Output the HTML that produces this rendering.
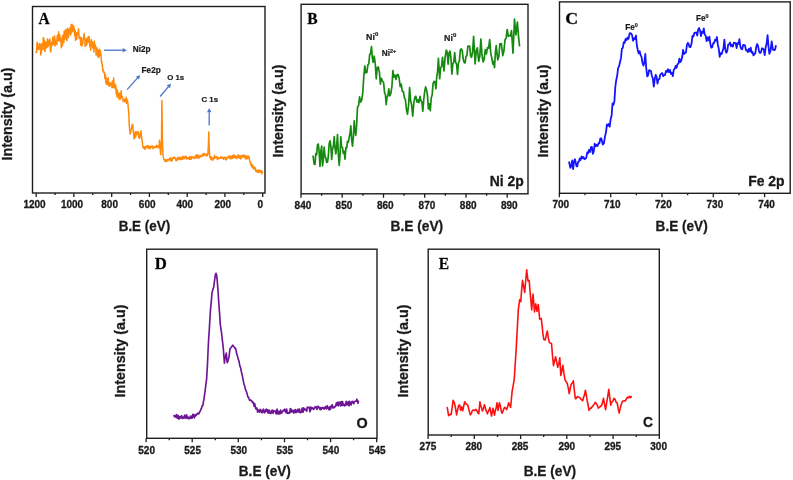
<!DOCTYPE html>
<html><head><meta charset="utf-8"><title>XPS spectra</title>
<style>html,body{margin:0;padding:0;background:#fff;width:793px;height:480px;overflow:hidden}svg{display:block;will-change:transform}svg text{stroke:#1a1a1a;stroke-width:0.3px}svg text.sm{stroke-width:0.2px}</style>
</head><body><svg width="793" height="480" viewBox="0 0 793 480"><rect x="32.5" y="6.5" width="232.5" height="186.5" fill="none" stroke="#1e1e1e" stroke-width="1.4"/>
<path d="M262.7 193.0V197.0M224.9 193.0V197.0M187.2 193.0V197.0M149.4 193.0V197.0M111.7 193.0V197.0M73.9 193.0V197.0M36.2 193.0V197.0M243.8 193.0V195.0M206.1 193.0V195.0M168.3 193.0V195.0M130.6 193.0V195.0M92.8 193.0V195.0M55.1 193.0V195.0" stroke="#1e1e1e" stroke-width="1.3" fill="none"/>
<text transform="translate(34.50 208.18) scale(1 1.100)" font-size="10.00" font-weight="bold" text-anchor="middle" fill="#1a1a1a" font-family="Liberation Sans, sans-serif">1200</text>
<text transform="translate(72.00 208.18) scale(1 1.100)" font-size="10.00" font-weight="bold" text-anchor="middle" fill="#1a1a1a" font-family="Liberation Sans, sans-serif">1000</text>
<text transform="translate(109.65 208.18) scale(1 1.100)" font-size="10.00" font-weight="bold" text-anchor="middle" fill="#1a1a1a" font-family="Liberation Sans, sans-serif">800</text>
<text transform="translate(147.20 208.18) scale(1 1.100)" font-size="10.00" font-weight="bold" text-anchor="middle" fill="#1a1a1a" font-family="Liberation Sans, sans-serif">600</text>
<text transform="translate(184.85 208.18) scale(1 1.100)" font-size="10.00" font-weight="bold" text-anchor="middle" fill="#1a1a1a" font-family="Liberation Sans, sans-serif">400</text>
<text transform="translate(222.80 208.18) scale(1 1.100)" font-size="10.00" font-weight="bold" text-anchor="middle" fill="#1a1a1a" font-family="Liberation Sans, sans-serif">200</text>
<text transform="translate(260.30 208.18) scale(1 1.100)" font-size="10.00" font-weight="bold" text-anchor="middle" fill="#1a1a1a" font-family="Liberation Sans, sans-serif">0</text>
<text x="118.7" y="230.6" font-size="14.60" font-weight="bold" fill="#1a1a1a" font-family="Liberation Sans, sans-serif" textLength="51.5" lengthAdjust="spacingAndGlyphs">B.E (eV)</text>
<text transform="translate(12.4 160.5) rotate(-90)" x="0" y="0" font-size="14.20" font-weight="bold" fill="#1a1a1a" font-family="Liberation Sans, sans-serif" textLength="93" lengthAdjust="spacingAndGlyphs">Intensity (a.u)</text>
<text transform="translate(38.40 23.60) scale(1.000 1.040)" font-size="15.50" font-weight="bold" fill="#000" font-family="Liberation Serif, serif">A</text>
<path d="M36.0 51.1 L36.3 52.5 L36.6 51.8 L36.9 44.7 L37.2 42.3 L37.6 45.8 L37.9 43.8 L38.2 49.4 L38.5 47.2 L38.8 46.9 L39.1 47.1 L39.4 49.0 L39.8 43.6 L40.1 47.9 L40.4 45.3 L40.7 54.9 L41.0 45.5 L41.3 53.6 L41.6 43.7 L41.9 50.1 L42.2 44.9 L42.6 44.8 L42.9 49.0 L43.2 38.2 L43.5 37.7 L43.8 48.6 L44.1 44.3 L44.4 39.9 L44.7 51.3 L45.0 51.4 L45.3 42.0 L45.6 46.4 L45.9 43.5 L46.2 44.9 L46.5 47.9 L46.8 41.7 L47.1 47.3 L47.5 38.8 L47.8 39.5 L48.1 46.5 L48.4 40.8 L48.7 41.6 L49.0 44.2 L49.3 43.3 L49.6 42.7 L49.9 39.0 L50.2 47.9 L50.5 51.3 L50.8 51.9 L51.1 47.4 L51.4 42.9 L51.8 42.2 L52.1 45.4 L52.4 44.4 L52.8 36.9 L53.1 37.5 L53.4 38.3 L53.7 40.5 L54.0 44.6 L54.4 41.3 L54.7 36.1 L55.0 46.1 L55.4 41.8 L55.7 43.4 L56.0 40.3 L56.3 41.9 L56.6 40.7 L56.9 44.5 L57.2 35.7 L57.6 40.3 L57.9 35.1 L58.2 40.5 L58.5 31.8 L58.8 35.4 L59.1 36.9 L59.4 41.1 L59.8 34.7 L60.1 40.3 L60.4 38.0 L60.7 39.5 L61.0 42.5 L61.3 47.7 L61.6 41.4 L62.0 46.5 L62.3 36.4 L62.6 44.9 L62.9 37.6 L63.2 34.9 L63.5 41.0 L63.9 42.4 L64.2 30.9 L64.5 33.5 L64.8 39.3 L65.1 33.9 L65.4 32.5 L65.7 29.5 L66.0 29.6 L66.3 36.4 L66.7 40.5 L67.0 40.5 L67.3 34.3 L67.6 28.3 L67.9 31.7 L68.2 37.1 L68.5 37.4 L68.8 34.5 L69.1 29.1 L69.4 32.1 L69.7 31.0 L70.0 32.2 L70.3 27.3 L70.6 35.0 L70.9 33.8 L71.2 24.5 L71.5 25.5 L71.8 32.0 L72.1 24.3 L72.4 31.7 L72.7 26.1 L73.0 29.3 L73.3 30.5 L73.6 25.7 L73.9 27.7 L74.2 28.4 L74.6 34.6 L74.9 35.9 L75.2 30.2 L75.5 40.4 L75.8 35.9 L76.1 32.6 L76.4 33.8 L76.7 39.3 L77.0 33.1 L77.3 32.8 L77.6 35.2 L77.9 34.6 L78.2 31.1 L78.5 28.8 L78.8 32.7 L79.1 38.2 L79.4 38.7 L79.8 38.0 L80.1 37.1 L80.4 39.1 L80.7 45.3 L81.0 45.1 L81.3 37.5 L81.6 44.8 L81.9 46.1 L82.2 43.9 L82.6 44.0 L82.9 43.2 L83.2 37.7 L83.5 39.7 L83.8 35.8 L84.1 33.4 L84.4 37.4 L84.8 37.9 L85.1 46.4 L85.4 44.5 L85.7 43.7 L86.0 45.6 L86.3 39.0 L86.6 43.2 L86.9 44.4 L87.3 40.0 L87.6 37.5 L87.9 38.8 L88.2 37.0 L88.5 42.2 L88.8 36.5 L89.1 36.7 L89.5 40.1 L89.8 45.6 L90.1 47.1 L90.4 46.7 L90.7 50.2 L91.0 43.6 L91.4 39.7 L91.7 45.4 L92.0 45.1 L92.3 42.1 L92.7 48.1 L93.0 44.4 L93.3 43.3 L93.6 44.6 L94.0 52.1 L94.3 41.1 L94.6 45.5 L94.9 45.1 L95.2 44.8 L95.5 48.2 L95.8 46.3 L96.1 55.3 L96.5 50.9 L96.8 53.8 L97.1 48.0 L97.4 52.3 L97.7 54.6 L98.0 57.3 L98.3 50.0 L98.6 52.4 L98.9 57.0 L99.2 56.6 L99.6 49.2 L99.9 52.8 L100.2 55.3 L100.5 50.8 L100.8 54.0 L101.1 56.6 L101.5 62.7 L101.8 61.8 L102.1 65.4 L102.4 64.5 L102.7 70.5 L103.0 68.9 L103.3 71.8 L103.6 71.7 L103.9 72.4 L104.3 72.0 L104.6 74.1 L104.9 78.5 L105.2 76.9 L105.5 75.1 L105.8 82.6 L106.1 77.8 L106.4 84.3 L106.8 81.2 L107.1 79.3 L107.4 84.2 L107.7 84.6 L108.0 79.2 L108.3 77.8 L108.6 83.3 L108.9 85.8 L109.2 84.0 L109.5 86.2 L109.8 83.1 L110.1 85.6 L110.4 82.7 L110.7 84.6 L111.0 84.8 L111.3 84.4 L111.6 84.2 L111.9 87.7 L112.2 81.1 L112.5 81.0 L112.8 81.1 L113.1 87.7 L113.4 82.9 L113.7 77.9 L114.0 85.1 L114.3 86.7 L114.6 87.3 L114.9 84.0 L115.2 88.8 L115.5 85.8 L115.8 85.3 L116.2 93.6 L116.5 94.5 L116.8 89.6 L117.1 97.2 L117.4 90.1 L117.7 94.0 L118.0 92.3 L118.3 95.0 L118.6 94.5 L119.0 99.5 L119.3 95.1 L119.6 93.6 L119.9 93.2 L120.3 94.0 L120.6 99.0 L120.9 96.1 L121.2 90.8 L121.6 97.2 L121.9 96.4 L122.2 96.2 L122.6 97.6 L122.9 99.5 L123.2 101.6 L123.5 99.4 L123.9 101.3 L124.2 100.3 L124.5 101.7 L124.9 99.1 L125.2 99.2 L125.5 100.0 L125.8 101.7 L126.2 97.3 L126.5 103.4 L126.8 98.9 L127.1 102.3 L127.5 100.5 L127.8 102.8 L128.2 106.9 L128.7 112.8 L129.0 118.6 L129.3 125.7 L129.7 130.0 L130.1 133.9 L130.5 133.0 L130.8 131.0 L131.2 129.7 L131.6 128.0 L131.9 126.3 L132.2 124.4 L132.6 124.3 L132.9 126.0 L133.3 132.0 L133.7 134.1 L134.0 138.7 L134.3 138.4 L134.6 136.8 L134.9 137.7 L135.2 131.8 L135.5 132.7 L135.8 136.6 L136.1 133.6 L136.4 131.7 L136.7 134.7 L137.0 132.4 L137.3 133.4 L137.6 132.3 L137.9 132.2 L138.2 131.6 L138.5 135.0 L138.8 137.4 L139.1 138.0 L139.4 137.0 L139.7 138.3 L140.0 135.2 L140.3 132.8 L140.7 134.6 L141.0 130.8 L141.4 136.6 L141.8 138.0 L142.2 141.2 L142.6 144.7 L143.0 147.5 L143.3 147.9 L143.7 147.9 L144.0 146.7 L144.3 147.0 L144.6 148.8 L145.0 149.4 L145.3 147.9 L145.6 146.7 L145.9 147.9 L146.3 147.4 L146.6 146.6 L146.9 145.9 L147.2 146.2 L147.6 146.7 L147.9 145.4 L148.2 147.0 L148.6 148.6 L148.9 148.1 L149.2 146.8 L149.5 147.6 L149.9 146.7 L150.2 148.6 L150.5 148.0 L150.8 146.3 L151.2 147.3 L151.5 147.2 L151.8 146.9 L152.1 146.0 L152.5 146.0 L152.8 146.4 L153.1 148.8 L153.4 146.8 L153.8 147.7 L154.1 147.8 L154.4 147.1 L154.8 147.5 L155.1 146.6 L155.4 146.6 L155.7 146.5 L156.1 146.1 L156.4 147.7 L156.7 145.3 L157.0 145.6 L157.4 146.8 L157.7 146.2 L158.0 146.7 L158.3 147.4 L158.7 145.6 L159.0 147.8 L159.5 140.2 L159.8 143.9 L160.2 148.9 L160.5 152.6 L160.8 154.7 L161.2 146.9 L161.5 139.9 L161.9 100.4 L162.4 140.1 L163.0 155.9 L163.3 156.9 L163.7 158.6 L164.0 159.6 L164.3 159.6 L164.6 159.5 L164.9 161.3 L165.2 159.8 L165.6 161.6 L165.9 160.0 L166.2 160.4 L166.5 160.3 L166.8 161.2 L167.1 161.1 L167.4 159.2 L167.8 160.0 L168.1 160.4 L168.4 159.4 L168.7 159.8 L169.0 159.4 L169.3 159.8 L169.6 158.7 L169.9 158.6 L170.2 157.7 L170.6 160.6 L170.9 160.4 L171.2 159.1 L171.5 161.1 L171.8 160.8 L172.1 158.1 L172.4 160.3 L172.8 158.7 L173.1 158.3 L173.4 157.9 L173.7 158.3 L174.0 157.0 L174.3 157.2 L174.7 157.6 L175.0 158.4 L175.3 158.2 L175.7 158.3 L176.0 160.8 L176.3 159.5 L176.7 159.6 L177.0 159.6 L177.3 160.3 L177.7 157.4 L178.0 157.3 L178.3 159.1 L178.7 158.9 L179.0 159.1 L179.3 157.9 L179.7 157.5 L180.0 157.1 L180.3 159.7 L180.7 159.3 L181.0 158.8 L181.3 159.4 L181.7 157.5 L182.0 158.3 L182.3 159.3 L182.7 156.5 L183.0 158.1 L183.3 156.5 L183.7 158.7 L184.0 158.8 L184.3 158.2 L184.7 157.6 L185.0 156.3 L185.3 158.0 L185.7 157.6 L186.0 157.6 L186.3 156.4 L186.7 159.1 L187.0 157.7 L187.3 157.7 L187.7 158.5 L188.0 158.5 L188.3 157.5 L188.6 157.7 L189.0 158.8 L189.3 157.4 L189.6 159.3 L189.9 156.6 L190.3 159.3 L190.6 158.2 L190.9 158.3 L191.2 159.2 L191.6 156.5 L191.9 156.8 L192.2 157.9 L192.5 157.5 L192.9 156.9 L193.2 157.9 L193.5 157.7 L193.8 158.5 L194.2 157.9 L194.5 157.1 L194.8 157.0 L195.1 156.1 L195.4 156.0 L195.8 155.5 L196.1 158.3 L196.4 155.3 L196.7 156.6 L197.1 154.8 L197.4 157.7 L197.7 156.4 L198.0 155.3 L198.4 157.6 L198.7 157.9 L199.0 158.4 L199.3 156.0 L199.7 156.4 L200.0 157.0 L200.3 155.5 L200.6 156.3 L201.0 156.5 L201.3 156.4 L201.6 156.4 L201.9 156.1 L202.2 154.6 L202.5 156.1 L202.8 155.0 L203.1 154.0 L203.5 153.5 L203.8 155.4 L204.1 154.5 L204.4 153.6 L204.7 154.9 L205.0 154.6 L205.3 154.2 L205.6 154.9 L206.0 154.8 L206.3 154.6 L206.6 156.1 L206.9 155.7 L207.3 153.6 L207.6 155.4 L207.9 153.5 L208.4 145.2 L208.8 132.0 L209.1 145.0 L209.4 151.4 L209.8 157.5 L210.1 157.7 L210.4 157.6 L210.7 156.7 L211.0 159.6 L211.3 156.9 L211.6 157.4 L211.9 158.4 L212.2 159.9 L212.5 159.2 L212.9 160.0 L213.2 159.0 L213.5 157.6 L213.8 158.9 L214.1 156.7 L214.4 155.5 L214.7 158.3 L215.0 158.2 L215.3 157.7 L215.6 157.3 L215.9 156.6 L216.2 156.9 L216.5 156.6 L216.8 156.9 L217.1 158.4 L217.4 159.6 L217.7 159.5 L218.0 157.9 L218.3 158.3 L218.6 157.4 L218.9 158.2 L219.3 157.8 L219.6 158.6 L219.9 158.3 L220.2 158.0 L220.5 157.9 L220.8 156.7 L221.1 157.9 L221.4 158.1 L221.7 157.3 L222.0 157.7 L222.3 158.2 L222.7 157.2 L223.0 158.5 L223.3 157.4 L223.7 159.3 L224.0 158.2 L224.3 157.4 L224.7 157.4 L225.0 157.4 L225.3 157.0 L225.7 159.8 L226.0 159.8 L226.3 159.2 L226.7 159.4 L227.0 157.4 L227.3 158.4 L227.7 156.9 L228.0 157.1 L228.3 157.6 L228.7 156.0 L229.0 155.9 L229.3 157.6 L229.7 157.0 L230.0 158.5 L230.3 156.2 L230.7 156.1 L231.0 159.0 L231.3 158.1 L231.7 158.1 L232.0 157.4 L232.3 155.8 L232.7 158.3 L233.0 156.5 L233.3 157.6 L233.7 154.8 L234.0 155.5 L234.3 156.6 L234.7 155.8 L235.0 158.0 L235.3 156.2 L235.7 155.9 L236.0 156.3 L236.3 156.5 L236.7 158.6 L237.0 158.2 L237.3 157.4 L237.7 156.4 L238.0 155.0 L238.3 157.4 L238.7 155.3 L239.0 155.7 L239.3 156.6 L239.7 158.2 L240.0 156.2 L240.3 156.0 L240.7 158.9 L241.0 155.7 L241.3 157.9 L241.7 155.7 L242.0 155.9 L242.3 155.4 L242.7 155.9 L243.0 157.2 L243.3 157.1 L243.6 156.3 L244.0 155.0 L244.3 155.5 L244.6 156.1 L244.9 157.9 L245.3 158.5 L245.6 155.7 L245.9 156.9 L246.2 159.0 L246.5 156.3 L246.9 156.0 L247.2 156.6 L247.5 158.6 L247.8 156.5 L248.2 158.0 L248.5 156.0 L248.8 157.7 L249.1 157.1 L249.5 159.4 L249.8 160.9 L250.2 162.3 L250.5 161.8 L250.8 164.5 L251.2 163.6 L251.5 166.3 L251.8 166.6 L252.1 167.3 L252.4 164.8 L252.7 165.8 L253.1 167.6 L253.4 168.7 L253.7 167.0 L254.0 169.1 L254.3 168.6 L254.6 167.3 L254.9 167.8 L255.2 167.8 L255.5 168.7 L255.8 171.3 L256.1 170.7 L256.5 171.5 L256.8 171.9 L257.1 170.4 L257.4 171.7 L257.7 171.8 L258.0 172.1 L258.3 170.1 L258.7 172.6 L259.0 170.1 L259.3 171.0 L259.6 171.7 L260.0 171.8 L260.3 172.0 L260.6 170.6 L261.0 170.9 L261.3 172.6 L261.6 170.7 L261.9 173.7 L262.3 172.2 L262.6 172.7" stroke="#ff8a0c" stroke-width="1.50" fill="none" stroke-linejoin="round"/>
<path d="M104.0 50.2L122.6 50.2" stroke="#4a74c8" stroke-width="1.3"/>
<path d="M126.8 50.2L122.6 52.4L122.6 48.0Z" fill="#4a74c8"/>
<path d="M127.1 89.6L137.4 78.1" stroke="#4a74c8" stroke-width="1.3"/>
<path d="M140.2 75.0L139.0 79.6L135.8 76.7Z" fill="#4a74c8"/>
<path d="M160.1 96.5L168.3 86.8" stroke="#4a74c8" stroke-width="1.3"/>
<path d="M171.0 83.6L170.0 88.2L166.6 85.4Z" fill="#4a74c8"/>
<path d="M209.2 125.5L209.2 112.2" stroke="#4a74c8" stroke-width="1.3"/>
<path d="M209.2 108.0L211.4 112.2L207.0 112.2Z" fill="#4a74c8"/>
<text x="132.8" y="51.8" font-size="8.20" font-weight="bold" text-anchor="start" fill="#1a1a1a" font-family="Liberation Sans, sans-serif"  class="sm">Ni2p</text>
<text x="141.6" y="72.5" font-size="8.20" font-weight="bold" text-anchor="start" fill="#1a1a1a" font-family="Liberation Sans, sans-serif"  class="sm">Fe2p</text>
<text x="167.2" y="80.0" font-size="7.80" font-weight="bold" text-anchor="start" fill="#1a1a1a" font-family="Liberation Sans, sans-serif"  class="sm">O 1s</text>
<text x="201.5" y="102.3" font-size="7.80" font-weight="bold" text-anchor="start" fill="#1a1a1a" font-family="Liberation Sans, sans-serif"  class="sm">C 1s</text>
<rect x="301.1" y="4.3" width="226.9" height="189.5" fill="none" stroke="#1e1e1e" stroke-width="1.4"/>
<path d="M301.0 193.8V197.8M342.2 193.8V197.8M383.5 193.8V197.8M424.7 193.8V197.8M466.0 193.8V197.8M507.2 193.8V197.8M321.6 193.8V195.8M362.9 193.8V195.8M404.1 193.8V195.8M445.3 193.8V195.8M486.6 193.8V195.8" stroke="#1e1e1e" stroke-width="1.3" fill="none"/>
<text transform="translate(302.95 209.48) scale(1 1.100)" font-size="10.00" font-weight="bold" text-anchor="middle" fill="#1a1a1a" font-family="Liberation Sans, sans-serif">840</text>
<text transform="translate(343.95 209.48) scale(1 1.100)" font-size="10.00" font-weight="bold" text-anchor="middle" fill="#1a1a1a" font-family="Liberation Sans, sans-serif">850</text>
<text transform="translate(385.25 209.48) scale(1 1.100)" font-size="10.00" font-weight="bold" text-anchor="middle" fill="#1a1a1a" font-family="Liberation Sans, sans-serif">860</text>
<text transform="translate(426.95 209.48) scale(1 1.100)" font-size="10.00" font-weight="bold" text-anchor="middle" fill="#1a1a1a" font-family="Liberation Sans, sans-serif">870</text>
<text transform="translate(468.20 209.48) scale(1 1.100)" font-size="10.00" font-weight="bold" text-anchor="middle" fill="#1a1a1a" font-family="Liberation Sans, sans-serif">880</text>
<text transform="translate(509.35 209.48) scale(1 1.100)" font-size="10.00" font-weight="bold" text-anchor="middle" fill="#1a1a1a" font-family="Liberation Sans, sans-serif">890</text>
<text x="390.5" y="230.6" font-size="14.60" font-weight="bold" fill="#1a1a1a" font-family="Liberation Sans, sans-serif" textLength="52.7" lengthAdjust="spacingAndGlyphs">B.E (eV)</text>
<text transform="translate(282.6 157.5) rotate(-90)" x="0" y="0" font-size="14.20" font-weight="bold" fill="#1a1a1a" font-family="Liberation Sans, sans-serif" textLength="93" lengthAdjust="spacingAndGlyphs">Intensity (a.u)</text>
<text transform="translate(307.30 23.60) scale(1.000 1.040)" font-size="15.50" font-weight="bold" fill="#000" font-family="Liberation Serif, serif">B</text>
<text x="489.8" y="185.6" font-size="13.90" font-weight="bold" text-anchor="start" fill="#1a1a1a" font-family="Liberation Sans, sans-serif" >Ni 2p</text>
<path d="M313.0 155.5 L314.2 164.2 L315.0 164.4 L315.8 153.6 L316.6 154.8 L317.5 144.8 L318.3 144.0 L319.1 151.5 L320.0 166.4 L320.9 151.0 L321.7 146.2 L322.5 165.8 L323.4 159.3 L324.2 147.0 L325.0 156.2 L325.8 157.9 L326.6 162.3 L327.5 162.1 L328.3 156.3 L329.2 143.6 L330.0 140.9 L330.9 146.5 L331.7 159.4 L332.5 149.3 L333.4 146.1 L334.2 136.5 L335.0 147.7 L335.8 153.8 L336.6 147.4 L337.5 134.6 L338.4 155.2 L339.2 165.4 L340.0 155.5 L340.8 136.9 L341.6 147.0 L342.5 147.6 L343.3 153.4 L344.2 151.4 L345.0 159.1 L345.9 147.7 L346.7 147.9 L347.5 141.4 L348.4 142.1 L349.2 137.2 L350.0 133.5 L350.8 125.9 L351.6 138.9 L352.5 146.1 L353.4 136.4 L354.2 120.9 L355.0 131.5 L355.8 135.3 L356.6 125.7 L357.5 107.3 L358.6 105.4 L359.6 96.9 L360.6 102.2 L361.7 100.0 L362.7 93.5 L363.8 76.2 L364.8 65.9 L365.8 73.0 L366.9 72.3 L367.9 64.8 L368.8 63.9 L369.6 55.0 L370.6 53.0 L371.5 46.7 L372.3 57.6 L373.1 62.3 L374.2 56.1 L375.2 62.8 L376.2 78.8 L377.3 67.5 L378.3 66.9 L379.4 72.2 L380.4 84.1 L381.4 78.4 L382.5 80.9 L383.6 82.6 L384.6 93.1 L385.4 94.4 L386.2 104.7 L387.1 96.4 L387.9 95.8 L388.8 88.9 L389.8 95.8 L390.8 93.7 L391.9 86.7 L392.9 70.7 L393.9 77.2 L395.0 75.1 L396.0 79.4 L397.1 74.7 L398.1 74.6 L399.1 78.0 L400.2 86.6 L401.2 84.1 L402.3 91.5 L403.4 91.7 L404.4 97.8 L405.4 99.5 L406.5 110.1 L407.5 114.2 L408.6 105.1 L409.6 87.6 L410.6 100.5 L411.7 105.3 L412.7 116.2 L413.8 103.1 L414.8 97.4 L415.8 96.2 L416.9 102.2 L417.9 99.8 L418.9 102.6 L420.0 96.4 L421.0 101.0 L421.9 101.9 L422.8 111.3 L423.8 98.8 L424.7 91.7 L425.6 86.9 L426.6 90.2 L427.5 95.4 L428.4 108.9 L429.4 103.8 L430.3 110.7 L431.2 98.2 L432.2 94.4 L433.1 83.4 L434.1 81.3 L435.0 81.8 L435.9 88.6 L436.7 77.5 L437.6 71.6 L438.4 58.4 L439.7 78.8 L440.6 67.8 L441.6 66.4 L442.5 57.3 L444.0 70.9 L445.1 57.4 L446.3 50.1 L447.2 52.1 L448.1 64.1 L449.1 52.8 L450.0 51.1 L450.9 57.8 L451.9 74.2 L452.8 63.7 L453.8 62.2 L454.7 52.6 L455.6 62.0 L456.6 64.4 L457.5 74.5 L458.4 63.2 L459.4 60.6 L460.4 49.9 L461.3 48.9 L462.2 50.4 L463.2 59.1 L464.1 62.4 L465.1 62.9 L466.0 56.4 L466.9 55.6 L467.9 46.1 L468.8 46.1 L469.7 46.4 L470.6 55.9 L471.5 57.3 L472.6 51.9 L473.6 36.4 L475.1 64.0 L476.2 51.0 L477.3 47.9 L478.7 61.5 L479.8 56.1 L480.9 39.0 L482.0 55.0 L483.1 61.9 L484.2 59.2 L485.3 49.5 L486.4 53.9 L487.5 47.5 L488.6 48.2 L489.7 39.6 L490.8 53.4 L491.9 58.5 L492.8 64.2 L493.6 61.3 L494.5 67.7 L495.4 52.7 L496.2 45.7 L497.7 59.9 L498.8 56.7 L499.9 43.9 L501.3 43.5 L502.8 55.6 L503.9 51.1 L505.0 39.8 L506.1 38.2 L507.2 29.5 L508.3 36.3 L509.4 35.5 L510.4 35.9 L511.5 30.7 L513.0 53.1 L514.5 19.2 L515.9 34.8 L517.4 22.0 L518.5 36.3 L519.6 46.5" stroke="#168a10" stroke-width="1.70" fill="none" stroke-linejoin="round"/>
<text x="366.0" y="39.8" font-size="8.90" font-weight="bold" text-anchor="start" fill="#1a1a1a" font-family="Liberation Sans, sans-serif"  class="sm">Ni<tspan font-size="6" dy="-3.4">0</tspan></text>
<text x="381.8" y="56.2" font-size="8.20" font-weight="bold" text-anchor="start" fill="#1a1a1a" font-family="Liberation Sans, sans-serif"  class="sm">Ni<tspan font-size="5.6" dy="-3.3">2+</tspan></text>
<text x="444.0" y="40.5" font-size="8.90" font-weight="bold" text-anchor="start" fill="#1a1a1a" font-family="Liberation Sans, sans-serif"  class="sm">Ni<tspan font-size="6" dy="-3.4">0</tspan></text>
<rect x="559.5" y="1.9" width="230.7" height="191.4" fill="none" stroke="#1e1e1e" stroke-width="1.4"/>
<path d="M559.4 193.3V197.3M610.7 193.3V197.3M662.0 193.3V197.3M713.3 193.3V197.3M764.6 193.3V197.3M585.0 193.3V195.3M636.4 193.3V195.3M687.6 193.3V195.3M738.9 193.3V195.3" stroke="#1e1e1e" stroke-width="1.3" fill="none"/>
<text transform="translate(560.85 208.38) scale(1 1.100)" font-size="10.00" font-weight="bold" text-anchor="middle" fill="#1a1a1a" font-family="Liberation Sans, sans-serif">700</text>
<text transform="translate(612.35 208.38) scale(1 1.100)" font-size="10.00" font-weight="bold" text-anchor="middle" fill="#1a1a1a" font-family="Liberation Sans, sans-serif">710</text>
<text transform="translate(663.40 208.38) scale(1 1.100)" font-size="10.00" font-weight="bold" text-anchor="middle" fill="#1a1a1a" font-family="Liberation Sans, sans-serif">720</text>
<text transform="translate(714.90 208.38) scale(1 1.100)" font-size="10.00" font-weight="bold" text-anchor="middle" fill="#1a1a1a" font-family="Liberation Sans, sans-serif">730</text>
<text transform="translate(766.60 208.38) scale(1 1.100)" font-size="10.00" font-weight="bold" text-anchor="middle" fill="#1a1a1a" font-family="Liberation Sans, sans-serif">740</text>
<text x="655.6" y="230.6" font-size="14.60" font-weight="bold" fill="#1a1a1a" font-family="Liberation Sans, sans-serif" textLength="52.1" lengthAdjust="spacingAndGlyphs">B.E (eV)</text>
<text transform="translate(548.0 157.5) rotate(-90)" x="0" y="0" font-size="14.20" font-weight="bold" fill="#1a1a1a" font-family="Liberation Sans, sans-serif" textLength="93" lengthAdjust="spacingAndGlyphs">Intensity (a.u)</text>
<text transform="translate(565.30 24.10) scale(1.150 1.120)" font-size="15.50" font-weight="bold" fill="#000" font-family="Liberation Serif, serif">C</text>
<text x="748.3" y="185.9" font-size="13.90" font-weight="bold" text-anchor="start" fill="#1a1a1a" font-family="Liberation Sans, sans-serif" >Fe 2p</text>
<path d="M569.0 161.5 L570.3 167.8 L571.2 166.1 L572.2 160.4 L573.1 169.2 L574.0 161.9 L575.0 159.3 L576.5 166.4 L577.3 166.3 L578.1 161.8 L578.9 161.7 L579.7 158.4 L580.6 160.0 L581.6 156.4 L582.5 158.2 L583.4 156.9 L584.4 159.2 L585.3 158.8 L586.2 158.1 L587.2 152.5 L588.1 153.2 L589.0 149.8 L590.0 152.0 L591.0 147.1 L591.9 146.9 L592.8 153.8 L593.8 151.5 L594.7 143.7 L595.6 146.4 L596.6 144.8 L597.5 146.1 L598.5 143.2 L599.4 143.3 L600.3 138.5 L601.3 138.5 L602.8 144.5 L603.9 143.4 L605.0 136.4 L606.0 132.3 L606.9 124.4 L607.8 125.7 L608.8 123.9 L609.7 126.6 L610.7 119.0 L611.6 115.8 L612.5 103.5 L613.5 104.9 L614.4 101.3 L615.3 87.0 L616.2 80.3 L617.2 75.6 L618.1 68.1 L619.0 66.5 L620.0 62.3 L621.0 57.9 L621.9 48.7 L622.8 47.9 L623.8 42.1 L624.7 42.7 L625.6 38.9 L626.6 40.1 L627.5 37.5 L628.5 38.9 L629.7 33.2 L630.9 33.3 L632.0 34.8 L633.1 40.8 L634.1 38.1 L635.0 39.0 L636.0 35.5 L636.9 46.0 L637.8 50.0 L638.7 53.4 L639.7 51.2 L640.6 55.2 L641.6 57.1 L642.5 63.0 L643.5 65.6 L644.4 62.4 L645.3 54.0 L646.2 67.7 L647.2 76.4 L648.1 75.4 L649.1 70.1 L650.0 70.7 L651.0 71.1 L651.9 76.0 L652.8 78.2 L653.8 86.7 L654.8 78.9 L655.7 74.9 L656.6 76.9 L657.5 83.6 L658.5 79.4 L659.4 79.0 L660.3 74.6 L661.3 73.7 L662.2 73.0 L663.2 76.2 L664.1 75.2 L665.0 75.1 L666.0 70.9 L666.9 72.0 L667.9 69.2 L669.0 72.1 L670.0 69.9 L670.9 73.8 L671.9 72.8 L672.8 76.2 L673.8 69.7 L674.7 68.9 L675.6 65.9 L676.6 67.7 L677.5 64.0 L678.5 63.7 L679.4 58.7 L680.3 62.1 L681.3 60.5 L682.2 57.1 L683.1 49.9 L684.0 54.0 L685.0 52.8 L685.9 52.6 L686.9 45.2 L687.8 42.9 L688.6 43.9 L689.5 47.0 L690.3 47.2 L691.4 44.4 L692.5 35.9 L693.4 36.6 L694.4 32.8 L695.3 32.6 L696.2 32.5 L697.2 35.5 L698.2 29.5 L699.1 28.1 L700.0 30.3 L701.0 36.1 L701.9 31.6 L702.9 32.9 L703.8 28.4 L704.7 34.7 L705.7 35.6 L706.6 41.2 L707.5 37.4 L708.5 40.2 L709.4 36.6 L710.3 43.6 L711.3 47.7 L712.2 47.2 L713.2 43.1 L714.1 43.0 L715.0 39.8 L716.0 40.7 L716.9 37.0 L717.8 44.2 L718.8 49.1 L719.7 56.8 L720.6 53.1 L721.6 54.2 L722.5 51.2 L723.5 47.9 L724.4 39.7 L725.3 49.4 L726.3 52.8 L727.2 51.1 L728.2 44.6 L729.1 44.3 L730.0 42.5 L731.0 46.3 L731.9 45.0 L732.8 46.6 L733.8 42.7 L734.7 43.0 L735.7 43.1 L736.6 48.1 L737.5 43.1 L738.5 43.8 L739.4 39.1 L740.3 46.4 L741.3 48.9 L742.2 49.3 L743.2 44.8 L744.1 44.9 L745.0 45.5 L746.0 50.4 L746.9 50.1 L747.9 52.0 L748.8 48.8 L749.8 51.4 L750.7 47.7 L751.6 52.6 L752.5 51.9 L753.5 55.4 L754.4 54.3 L755.3 53.1 L756.3 46.5 L757.2 44.0 L758.1 46.2 L759.1 51.7 L760.0 53.1 L761.0 52.1 L761.9 48.4 L762.9 48.4 L763.8 49.7 L764.7 55.1 L765.7 47.1 L766.6 43.8 L767.6 35.2 L768.5 46.7 L769.4 53.8 L770.5 50.9 L771.7 41.5 L772.9 49.7 L774.1 50.2 L775.0 49.7 L776.0 45.3" stroke="#1414ff" stroke-width="1.80" fill="none" stroke-linejoin="round"/>
<text x="625.3" y="30.0" font-size="8.20" font-weight="bold" text-anchor="start" fill="#1a1a1a" font-family="Liberation Sans, sans-serif"  class="sm">Fe<tspan font-size="5.5" dy="-3.2">0</tspan></text>
<text x="695.9" y="21.0" font-size="8.20" font-weight="bold" text-anchor="start" fill="#1a1a1a" font-family="Liberation Sans, sans-serif"  class="sm">Fe<tspan font-size="5.5" dy="-3.2">0</tspan></text>
<rect x="146.7" y="249.2" width="230.3" height="189.1" fill="none" stroke="#1e1e1e" stroke-width="1.4"/>
<path d="M146.1 438.3V442.3M192.2 438.3V442.3M238.3 438.3V442.3M284.5 438.3V442.3M330.6 438.3V442.3M376.7 438.3V442.3M169.2 438.3V440.3M215.3 438.3V440.3M261.4 438.3V440.3M307.5 438.3V440.3M353.6 438.3V440.3" stroke="#1e1e1e" stroke-width="1.3" fill="none"/>
<text transform="translate(146.65 453.88) scale(1 1.100)" font-size="10.00" font-weight="bold" text-anchor="middle" fill="#1a1a1a" font-family="Liberation Sans, sans-serif">520</text>
<text transform="translate(192.65 453.88) scale(1 1.100)" font-size="10.00" font-weight="bold" text-anchor="middle" fill="#1a1a1a" font-family="Liberation Sans, sans-serif">525</text>
<text transform="translate(238.85 453.88) scale(1 1.100)" font-size="10.00" font-weight="bold" text-anchor="middle" fill="#1a1a1a" font-family="Liberation Sans, sans-serif">530</text>
<text transform="translate(284.85 453.88) scale(1 1.100)" font-size="10.00" font-weight="bold" text-anchor="middle" fill="#1a1a1a" font-family="Liberation Sans, sans-serif">535</text>
<text transform="translate(330.90 453.88) scale(1 1.100)" font-size="10.00" font-weight="bold" text-anchor="middle" fill="#1a1a1a" font-family="Liberation Sans, sans-serif">540</text>
<text transform="translate(377.20 453.88) scale(1 1.100)" font-size="10.00" font-weight="bold" text-anchor="middle" fill="#1a1a1a" font-family="Liberation Sans, sans-serif">545</text>
<text x="238.8" y="475.9" font-size="14.60" font-weight="bold" fill="#1a1a1a" font-family="Liberation Sans, sans-serif" textLength="52.1" lengthAdjust="spacingAndGlyphs">B.E (eV)</text>
<text transform="translate(125.4 397.5) rotate(-90)" x="0" y="0" font-size="14.20" font-weight="bold" fill="#1a1a1a" font-family="Liberation Sans, sans-serif" textLength="93" lengthAdjust="spacingAndGlyphs">Intensity (a.u)</text>
<text transform="translate(154.80 269.20) scale(1.080 1.040)" font-size="15.50" font-weight="bold" fill="#000" font-family="Liberation Serif, serif">D</text>
<text x="356.4" y="428.4" font-size="14.40" font-weight="bold" text-anchor="start" fill="#1a1a1a" font-family="Liberation Sans, sans-serif" >O</text>
<path d="M173.8 415.1 L174.3 416.6 L174.8 415.9 L175.3 416.9 L175.8 417.1 L176.3 414.7 L176.8 414.5 L177.3 418.2 L177.9 415.8 L178.4 415.7 L178.9 419.1 L179.4 416.9 L179.9 418.5 L180.4 416.9 L181.0 417.6 L181.5 415.5 L182.0 417.6 L182.5 418.6 L183.1 417.1 L183.6 418.1 L184.1 417.8 L184.6 415.1 L185.1 418.1 L185.7 417.4 L186.2 416.1 L186.7 414.9 L187.2 418.6 L187.8 416.9 L188.3 418.0 L188.8 418.7 L189.3 417.8 L189.8 418.6 L190.3 416.2 L190.8 417.9 L191.3 416.2 L191.8 418.3 L192.3 417.9 L192.8 414.4 L193.3 414.4 L193.8 414.7 L194.3 417.9 L194.8 415.4 L195.3 416.2 L195.8 414.6 L196.3 415.4 L196.8 414.2 L197.4 413.4 L197.9 413.8 L198.4 413.1 L198.9 413.8 L199.5 412.2 L200.0 411.4 L200.6 410.1 L201.1 409.2 L201.7 407.6 L202.2 405.6 L202.8 405.6 L203.4 402.0 L204.1 398.2 L204.7 393.9 L205.3 389.1 L206.0 383.3 L206.6 379.3 L207.5 363.9 L208.1 349.7 L208.7 338.1 L209.4 328.1 L210.0 317.1 L210.6 308.1 L211.3 301.8 L211.9 293.7 L212.5 290.7 L213.2 288.5 L213.8 286.7 L214.7 279.4 L215.3 275.2 L216.0 273.3 L216.6 275.2 L217.1 279.1 L217.8 287.9 L218.5 298.1 L219.1 307.0 L219.7 315.0 L220.3 324.6 L220.9 328.5 L221.6 333.1 L222.2 339.0 L222.8 343.7 L223.4 349.5 L223.9 356.4 L224.4 363.2 L225.0 358.9 L225.7 355.3 L226.3 353.1 L227.2 362.7 L227.8 361.5 L228.5 359.2 L229.1 356.1 L230.0 348.7 L230.6 348.1 L231.1 347.5 L231.7 346.7 L232.2 345.9 L232.8 345.2 L233.4 346.5 L233.9 346.5 L234.5 347.2 L235.0 348.4 L235.6 348.4 L236.2 351.0 L236.9 354.6 L237.5 356.3 L238.1 358.9 L238.8 360.5 L239.4 363.7 L240.0 366.4 L240.7 368.0 L241.3 371.5 L241.9 374.1 L242.4 375.8 L243.0 379.4 L243.5 381.7 L244.1 384.7 L244.7 386.0 L245.2 388.5 L245.8 390.4 L246.3 391.2 L246.9 393.1 L247.5 395.4 L248.0 397.2 L248.6 397.4 L249.1 399.0 L249.7 400.5 L250.3 399.9 L250.8 400.4 L251.4 400.5 L251.9 401.2 L252.5 402.7 L253.1 402.1 L253.6 403.5 L254.2 406.4 L254.7 403.6 L255.3 407.2 L255.9 409.0 L256.5 407.8 L257.0 408.3 L257.6 412.2 L258.2 410.3 L258.7 410.0 L259.2 411.1 L259.7 412.3 L260.2 409.3 L260.7 410.3 L261.3 410.3 L261.8 412.7 L262.3 410.6 L262.8 412.6 L263.3 409.1 L263.8 409.9 L264.3 411.5 L264.8 412.8 L265.4 410.7 L265.9 409.7 L266.4 409.2 L266.9 411.4 L267.5 409.8 L268.0 412.9 L268.5 413.2 L269.0 410.0 L269.5 410.5 L270.1 413.3 L270.6 412.5 L271.1 413.4 L271.6 411.1 L272.1 410.0 L272.6 410.8 L273.1 413.3 L273.6 410.6 L274.1 411.0 L274.6 411.3 L275.1 411.3 L275.6 411.3 L276.1 413.8 L276.6 409.9 L277.1 409.2 L277.6 413.8 L278.1 413.5 L278.6 414.0 L279.1 411.2 L279.7 413.8 L280.2 413.7 L280.7 410.1 L281.2 412.7 L281.7 413.1 L282.2 412.2 L282.7 411.5 L283.2 410.3 L283.7 410.6 L284.2 410.0 L284.7 409.2 L285.2 411.7 L285.7 410.2 L286.2 412.8 L286.7 409.0 L287.2 413.2 L287.7 412.2 L288.2 413.3 L288.7 413.1 L289.2 413.1 L289.8 411.5 L290.3 408.6 L290.8 412.3 L291.3 409.4 L291.8 410.0 L292.3 411.8 L292.8 411.1 L293.4 410.5 L293.9 413.1 L294.4 411.4 L294.9 410.0 L295.4 409.6 L295.9 412.6 L296.5 410.6 L297.0 412.1 L297.5 410.0 L298.0 409.2 L298.5 410.8 L299.0 412.2 L299.5 409.0 L300.1 412.0 L300.6 412.7 L301.1 412.1 L301.6 412.1 L302.1 408.0 L302.6 411.0 L303.1 412.1 L303.7 407.9 L304.2 409.0 L304.7 408.9 L305.2 410.1 L305.7 409.5 L306.2 409.7 L306.7 411.1 L307.3 407.2 L307.8 407.3 L308.3 407.6 L308.8 407.5 L309.3 407.2 L309.8 411.6 L310.4 411.0 L310.9 407.0 L311.4 409.0 L311.9 408.0 L312.4 407.9 L312.9 408.0 L313.4 409.4 L314.0 409.1 L314.5 407.9 L315.0 406.9 L315.5 407.5 L316.0 406.5 L316.5 408.6 L317.0 409.4 L317.5 407.7 L318.1 406.2 L318.6 406.6 L319.1 407.6 L319.6 408.7 L320.1 409.6 L320.6 407.5 L321.1 409.6 L321.6 408.7 L322.1 407.7 L322.7 407.4 L323.2 408.0 L323.7 409.0 L324.2 407.6 L324.7 408.9 L325.2 407.7 L325.7 406.6 L326.2 408.0 L326.7 408.8 L327.3 405.7 L327.8 407.4 L328.3 407.4 L328.8 409.6 L329.3 409.9 L329.8 406.9 L330.3 409.3 L330.8 408.6 L331.3 405.7 L331.8 406.6 L332.3 404.7 L332.8 407.9 L333.3 407.0 L333.8 407.9 L334.3 407.2 L334.8 406.4 L335.3 406.6 L335.8 405.5 L336.3 403.0 L336.8 405.3 L337.4 402.3 L337.9 402.9 L338.4 405.9 L339.0 402.2 L339.5 402.3 L340.0 402.2 L340.5 406.0 L341.1 402.4 L341.6 401.5 L342.1 405.5 L342.7 401.8 L343.2 405.3 L343.7 404.5 L344.2 405.3 L344.7 405.9 L345.2 404.0 L345.7 405.1 L346.2 401.3 L346.7 404.9 L347.2 403.7 L347.7 404.7 L348.2 401.6 L348.7 404.8 L349.2 405.8 L349.7 401.4 L350.2 402.7 L350.7 403.7 L351.2 404.9 L351.8 401.8 L352.3 401.3 L352.8 401.5 L353.3 403.1 L353.8 403.6 L354.4 401.7 L354.9 401.4 L355.4 401.3 L355.9 400.9 L356.4 401.1 L356.9 399.2 L357.5 401.2 L358.0 403.3 L358.5 400.4" stroke="#6e1596" stroke-width="1.65" fill="none" stroke-linejoin="round"/>
<rect x="428.2" y="249.2" width="231.1" height="185.8" fill="none" stroke="#1e1e1e" stroke-width="1.4"/>
<path d="M428.1 435.0V439.0M474.3 435.0V439.0M520.6 435.0V439.0M566.8 435.0V439.0M613.1 435.0V439.0M659.3 435.0V439.0M451.2 435.0V437.0M497.5 435.0V437.0M543.7 435.0V437.0M589.9 435.0V437.0M636.2 435.0V437.0" stroke="#1e1e1e" stroke-width="1.3" fill="none"/>
<text transform="translate(427.95 450.38) scale(1 1.100)" font-size="10.00" font-weight="bold" text-anchor="middle" fill="#1a1a1a" font-family="Liberation Sans, sans-serif">275</text>
<text transform="translate(473.85 450.38) scale(1 1.100)" font-size="10.00" font-weight="bold" text-anchor="middle" fill="#1a1a1a" font-family="Liberation Sans, sans-serif">280</text>
<text transform="translate(520.05 450.38) scale(1 1.100)" font-size="10.00" font-weight="bold" text-anchor="middle" fill="#1a1a1a" font-family="Liberation Sans, sans-serif">285</text>
<text transform="translate(566.80 450.38) scale(1 1.100)" font-size="10.00" font-weight="bold" text-anchor="middle" fill="#1a1a1a" font-family="Liberation Sans, sans-serif">290</text>
<text transform="translate(612.75 450.38) scale(1 1.100)" font-size="10.00" font-weight="bold" text-anchor="middle" fill="#1a1a1a" font-family="Liberation Sans, sans-serif">295</text>
<text transform="translate(658.65 450.38) scale(1 1.100)" font-size="10.00" font-weight="bold" text-anchor="middle" fill="#1a1a1a" font-family="Liberation Sans, sans-serif">300</text>
<text x="523.7" y="475.7" font-size="14.60" font-weight="bold" fill="#1a1a1a" font-family="Liberation Sans, sans-serif" textLength="52.4" lengthAdjust="spacingAndGlyphs">B.E (eV)</text>
<text transform="translate(408.0 397.5) rotate(-90)" x="0" y="0" font-size="14.20" font-weight="bold" fill="#1a1a1a" font-family="Liberation Sans, sans-serif" textLength="93" lengthAdjust="spacingAndGlyphs">Intensity (a.u)</text>
<text transform="translate(438.70 269.00) scale(1.000 1.040)" font-size="15.50" font-weight="bold" fill="#000" font-family="Liberation Serif, serif">E</text>
<text transform="translate(642.9 427.2) scale(0.95 1)" font-size="14.6" font-weight="bold" fill="#1a1a1a" font-family="Liberation Sans, sans-serif">C</text>
<path d="M446.6 408.4 L447.3 407.7 L448.6 415.6 L449.4 414.9 L450.3 414.4 L451.1 414.6 L452.1 407.9 L453.1 400.2 L454.6 403.6 L455.6 408.6 L456.6 414.9 L457.6 409.9 L458.7 405.2 L459.7 405.1 L460.7 410.3 L461.7 406.9 L462.7 410.8 L463.7 406.2 L464.7 401.7 L466.2 404.2 L467.7 404.9 L468.6 408.4 L469.4 411.6 L470.3 414.9 L471.3 413.4 L472.3 410.6 L473.3 410.0 L474.8 410.6 L475.8 409.3 L476.8 410.5 L477.8 412.6 L478.8 413.6 L479.9 401.9 L480.7 405.2 L481.6 408.0 L482.4 411.0 L483.4 408.7 L484.4 404.8 L485.4 408.3 L486.4 411.3 L487.4 413.8 L488.2 411.6 L489.1 409.9 L489.9 407.6 L490.7 411.5 L491.5 416.0 L493.0 408.2 L494.5 415.1 L495.3 410.9 L496.2 407.6 L497.0 402.8 L498.0 410.4 L499.5 402.7 L500.4 406.1 L501.2 410.9 L502.1 413.3 L502.9 411.5 L503.8 408.9 L504.6 407.4 L505.6 408.1 L506.6 409.6 L507.6 406.9 L508.6 402.9 L509.6 405.0 L510.6 407.3 L512.1 391.5 L513.2 385.3 L514.2 379.6 L515.0 367.1 L515.9 353.5 L516.7 339.6 L518.3 309.7 L519.7 299.5 L520.8 301.6 L521.6 290.1 L522.5 280.3 L523.6 286.5 L524.7 292.4 L525.7 280.8 L526.7 269.9 L528.0 280.9 L529.2 280.5 L530.0 291.3 L530.9 300.7 L531.7 309.9 L533.0 294.0 L534.5 311.9 L535.8 303.8 L537.0 311.4 L538.3 304.5 L539.7 319.1 L541.3 318.6 L542.1 325.9 L542.9 333.7 L543.8 339.5 L545.2 340.0 L546.2 335.4 L547.3 331.0 L548.3 337.7 L549.4 342.7 L550.5 343.1 L551.5 343.4 L552.5 355.7 L553.5 365.7 L554.5 361.2 L555.6 356.8 L556.7 362.0 L557.7 367.4 L558.8 363.5 L559.8 357.9 L560.8 375.5 L561.8 371.0 L562.9 365.4 L564.0 373.9 L565.0 379.8 L566.0 381.5 L567.1 382.9 L568.2 387.6 L569.2 393.7 L570.2 388.7 L571.2 384.2 L572.3 382.9 L573.3 380.8 L574.3 390.2 L575.4 398.8 L576.5 398.2 L577.5 396.5 L578.5 397.1 L579.6 397.4 L580.6 398.8 L581.7 399.8 L582.7 400.8 L583.6 397.3 L584.5 394.9 L585.4 390.2 L586.3 394.8 L587.2 400.9 L588.1 405.0 L589.0 410.4 L590.0 408.4 L591.1 408.2 L592.1 406.7 L593.1 405.6 L594.2 404.1 L595.2 402.3 L596.2 403.4 L597.3 405.3 L598.3 408.1 L599.1 407.6 L599.9 407.1 L600.7 405.7 L601.5 405.7 L602.5 402.2 L603.5 398.3 L604.5 404.4 L605.6 409.6 L606.6 403.2 L607.7 396.7 L608.8 389.4 L609.8 397.8 L610.8 405.1 L611.6 402.1 L612.4 402.0 L613.2 400.4 L614.0 398.4 L615.0 399.1 L616.1 402.2 L617.1 402.7 L618.2 408.7 L619.2 413.0 L620.2 408.2 L621.3 404.5 L622.3 401.5 L623.3 401.0 L624.4 400.9 L625.4 400.9 L626.4 398.7 L627.5 397.3 L628.5 397.8 L629.3 396.3 L630.1 397.7 L630.9 396.5 L631.7 397.6" stroke="#ff1010" stroke-width="1.60" fill="none" stroke-linejoin="round"/></svg></body></html>
